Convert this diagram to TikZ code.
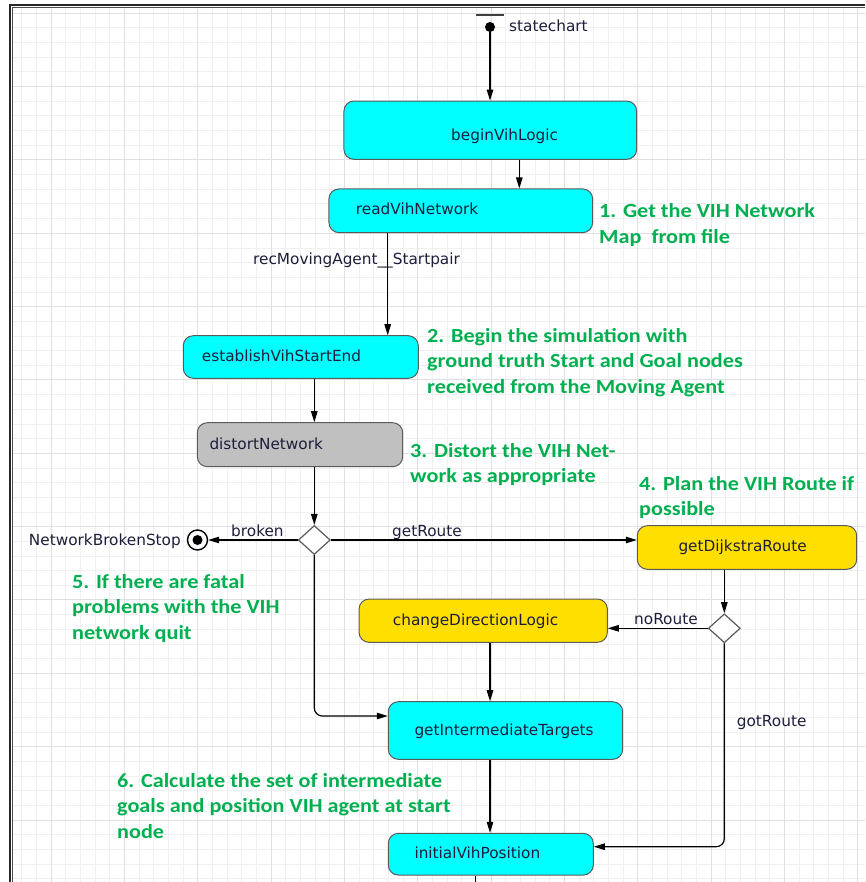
\documentclass[tikz,border=0pt]{standalone}
\usepackage{fontspec}
\setmainfont{DejaVu Sans}
\newfontfamily\notefont[FakeStretch=1.11]{Carlito}
\usetikzlibrary{shapes.geometric,arrows.meta}
\definecolor{cyanfill}{HTML}{00FFFF}
\definecolor{goldfill}{HTML}{FFDF00}
\definecolor{grayfill}{HTML}{C0C0C0}
\definecolor{edgegray}{HTML}{5A5A5A}
\definecolor{txt}{HTML}{1E1E3C}
\definecolor{notegreen}{HTML}{00B050}
\definecolor{gridminor}{HTML}{F0F0F0}
\definecolor{gridmajor}{HTML}{E0E0E0}
\begin{document}
\begin{tikzpicture}[x=1pt,y=-1pt,
  statebox/.style={draw=edgegray, line width=1pt, rounded corners=10pt, inner sep=0pt},
  cyanbox/.style={statebox, fill=cyanfill},
  goldbox/.style={statebox, fill=goldfill},
  graybox/.style={statebox, fill=grayfill},
  stxt/.style={anchor=base west, inner sep=0pt, text=txt, font=\fontsize{15.3}{18}\selectfont},
  notetxt/.style={anchor=base west, inner sep=0pt, text=notegreen, align=left, font=\notefont\bfseries\fontsize{20}{25.5}\selectfont},
  arr/.style={draw=black, line width=1.2pt, -{Triangle[length=11pt,width=6.5pt]}},
  plainline/.style={draw=black, line width=1.2pt},
  choice/.style={diamond, draw=edgegray, fill=white, line width=1.2pt, minimum width=32pt, minimum height=29pt, inner sep=0pt},
]
\useasboundingbox (0,0) rectangle (865,882);
\fill[white] (0,0) rectangle (865,882);
% grid
\begin{scope}
\clip (13,9) rectangle (865,882);
\foreach \k in {0,...,58} {
  \pgfmathsetmacro\xx{21.67+14.667*\k}
  \pgfmathtruncatemacro\m{mod(\k+3,5)}
  \ifnum\m=0\relax\else\draw[gridminor, line width=1pt] (\xx,0) -- (\xx,882);\fi
}
\foreach \k in {0,...,60} {
  \pgfmathsetmacro\yy{13.33+14.667*\k}
  \pgfmathtruncatemacro\m{mod(\k,5)}
  \ifnum\m=0\relax\else\draw[gridminor, line width=1pt] (0,\yy) -- (865,\yy);\fi
}
\foreach \k in {0,...,12} {
  \pgfmathsetmacro\xx{51+73.333*\k}
  \draw[gridmajor, line width=1pt] (\xx,0) -- (\xx,882);
}
\foreach \k in {0,...,12} {
  \pgfmathsetmacro\yy{13.33+73.333*\k}
  \draw[gridmajor, line width=1pt] (0,\yy) -- (865,\yy);
}
\end{scope}
% frame
\draw[line width=1.6pt, black!85] (9.8,882) -- (9.8,5.2) -- (865,5.2);
\draw[line width=0.9pt, black!70] (12.3,882) -- (12.3,7.9) -- (865,7.9);

% states
\node[cyanbox, minimum width=292.7pt, minimum height=58.3pt] (begin) at (490.3,130.2) {};
\node[cyanbox, minimum width=263.7pt, minimum height=43.7pt] (read) at (460.8,210.8) {};
\node[cyanbox, minimum width=235pt, minimum height=42.6pt] (est) at (300.8,357) {};
\node[graybox, minimum width=205.4pt, minimum height=44pt] (dist) at (300,444.7) {};
\node[goldbox, minimum width=219.4pt, minimum height=43.6pt] (dijk) at (747,547.5) {};
\node[goldbox, minimum width=248.3pt, minimum height=43.3pt] (change) at (483.2,620.7) {};
\node[cyanbox, minimum width=234.4pt, minimum height=57.6pt] (inter) at (505.5,730.5) {};
\node[cyanbox, minimum width=205pt, minimum height=41.7pt] (initpos) at (490.8,854.2) {};

\node[stxt] (tbegin) at (451,140.5) {beginVihLogic};
\node[stxt] (tread) at (355.7,214.3) {readVihNetwork};
\node[stxt] (test) at (201.7,361.7) {establishVihStartEnd};
\node[stxt] (tdist) at (209.3,449.3) {distortNetwork};
\node[stxt] (tdijk) at (678.3,551.5) {getDijkstraRoute};
\node[stxt] (tchange) at (392.7,625) {changeDirectionLogic};
\node[stxt] (tinter) at (414.3,735) {getIntermediateTargets};
\node[stxt] (tinitpos) at (414.3,858.5) {initialVihPosition};

% pseudo states
\draw[line width=2.6pt, black!75] (476,15) -- (504,15);
\node[circle, fill=black, inner sep=0pt, minimum size=10pt] (init) at (490,27) {};
\node[stxt] (tstatechart) at (509,31.7) {statechart};
\node[choice] (d1) at (314.3,540) {};
\node[choice] (d2) at (724.3,628.3) {};
\node[circle, draw=black, line width=1.4pt, fill=white, minimum size=20pt, inner sep=0pt] (stop) at (197.5,540) {};
\fill[black] (stop.center) circle (5pt);
\node[stxt, anchor=base east] (tstop) at (181,545) {NetworkBrokenStop};

% coordinates for vertical connectors
\coordinate (c1) at (519.3,0);
\coordinate (c2) at (387.7,0);
\coordinate (c3) at (314.3,0);
\coordinate (c4) at (490,0);
\coordinate (c5) at (724.3,0);
\coordinate (outend) at (475.7,882);

% transitions
\draw[arr] (init.south) -- (init |- begin.north);
\draw[arr] (begin.south -| c1) -- (read.north -| c1);
\draw[arr] (read.south -| c2) -- (est.north -| c2);
\node[stxt] (trec) at (253,265) {recMovingAgent\_\_Startpair};
\draw[arr] (est.south -| c3) -- (dist.north -| c3);
\draw[arr] (dist.south -| c3) -- (d1.north);
\draw[arr] (d1.west) -- (stop.east);
\node[stxt] (tbroken) at (231,536.7) {broken};
\draw[arr] (d1.east) -- (d1.east -| dijk.west);
\node[stxt] (tgetroute) at (392,536.7) {getRoute};
\draw[arr] (dijk.south -| c5) -- (d2.north);
\draw[arr] (d2.west) -- (d2.west -| change.east);
\node[stxt] (tnoroute) at (634,624.3) {noRoute};
\draw[arr] (change.south -| c4) -- (inter.north -| c4);
\draw[arr, rounded corners=8pt] (d1.south) |- ([yshift=14.5pt]inter.west);
\draw[arr, rounded corners=8pt] (d2.south) |- ([yshift=7.5pt]initpos.east);
\node[stxt] (tgotroute) at (736.7,726.5) {gotRoute};
\draw[arr] (inter.south -| c4) -- (initpos.north -| c4);
\draw[plainline] (initpos.south -| outend) -- (outend);

% notes (anchor = baseline of the last line)
\node[notetxt] (n1) at (599,243.5) {1. Get the VIH Network\\Map~ from file};
\node[notetxt] (n2) at (427,393) {2. Begin the simulation with\\ground truth Start and Goal nodes\\received from the Moving Agent};
\node[notetxt] (n3) at (410,482.5) {3. Distort the VIH Net-\\work as appropriate};
\node[notetxt] (n4) at (639,515.5) {4. Plan the VIH Route if\\possible};
\node[notetxt] (n5) at (72,639.3) {5. If there are fatal\\problems with the VIH\\network quit};
\node[notetxt] (n6) at (117,838) {6. Calculate the set of intermediate\\goals and position VIH agent at start\\node};
\end{tikzpicture}
\end{document}
